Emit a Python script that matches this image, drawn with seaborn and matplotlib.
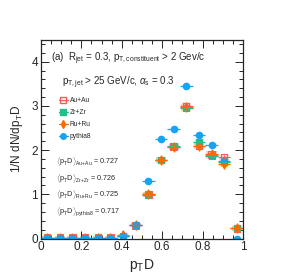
import numpy as np
import pandas as pd
import matplotlib
matplotlib.use("Agg")
import matplotlib.pyplot as plt
import seaborn as sns
from matplotlib.ticker import MultipleLocator
from matplotlib.lines import Line2D

# data
bin_centers = [0.03125, 0.09375, 0.15625, 0.21875, 0.28125, 0.34375, 0.40625, 0.46875,
               0.53125, 0.59375, 0.65625, 0.71875, 0.78125, 0.84375, 0.90625, 0.96875]
auau = [0.02, 0.02, 0.02, 0.02, 0.02, 0.02, 0.06, 0.30, 1.00, 1.78, 2.08, 3.00, 2.10, 1.90, 1.84, 0.23]
zrzr = [0.02, 0.02, 0.02, 0.02, 0.02, 0.02, 0.06, 0.30, 0.99, 1.77, 2.10, 2.95, 2.19, 1.86, 1.74, 0.23]
ruru = [0.02, 0.02, 0.02, 0.02, 0.02, 0.02, 0.07, 0.30, 1.00, 1.78, 2.08, 2.97, 2.10, 1.92, 1.69, 0.23]
pythia = [0.02, 0.02, 0.02, 0.02, 0.02, 0.02, 0.06, 0.31, 1.31, 2.26, 2.48, 3.46, 2.34, 2.12, 1.76, 0.00]
stat_err = [0.01, 0.01, 0.01, 0.01, 0.01, 0.01, 0.02, 0.03, 0.04, 0.05, 0.05, 0.06, 0.05, 0.05, 0.05, 0.03]
bin_half = 0.03125

labels = ["Au+Au", "Zr+Zr", "Ru+Ru", "pythia8"]
means = ["0.727", "0.726", "0.725", "0.717"]
sub = ["Au{+}Au", "Zr{+}Zr", "Ru{+}Ru", "pythia8"]

colors = ["#ff5a5a", "#1fbf8f", "#ff6a00", "#16a2f5"]
markers = ["s", "s", "d", "o"]

df = pd.DataFrame({"x": bin_centers * 4,
                   "y": auau + zrzr + ruru + pythia,
                   "err": stat_err * 4,
                   "sys": np.repeat(labels, len(bin_centers))})

sns.set_theme(style="ticks")
plt.rcParams["font.family"] = ["Liberation Sans", "DejaVu Sans"]
plt.rcParams["mathtext.fontset"] = "custom"
plt.rcParams["mathtext.rm"] = "Liberation Sans"
plt.rcParams["mathtext.it"] = "Liberation Sans:italic"

fig = plt.figure(figsize=(2.84, 2.79), dpi=100)
ax = fig.add_axes([0.144, 0.145, 0.712, 0.713])

for lab, c, m in zip(labels, colors, markers):
    d = df[df["sys"] == lab]
    # pale systematic boxes for the heavy-ion sets
    if lab != "pythia8":
        ax.bar(d["x"], 2 * d["err"] + 0.04, bottom=d["y"] - d["err"] - 0.02,
               width=2 * bin_half * 0.8, color=c, alpha=0.15, linewidth=0)
    ax.errorbar(d["x"], d["y"], xerr=bin_half, yerr=d["err"], fmt="none",
                ecolor=c, elinewidth=0.9, capsize=0)
    sns.scatterplot(data=d, x="x", y="y", ax=ax, color=c, marker=m, s=22,
                    edgecolor=c, linewidth=0.8, legend=False,
                    facecolor="none" if lab == "Au+Au" else c)

# legend handles (marker + horizontal bar, ROOT style)
handles = []
for lab, c, m in zip(labels, colors, markers):
    handles.append(Line2D([], [], color=c, marker=m, markersize=4, lw=0.9,
                          markerfacecolor="none" if lab == "Au+Au" else c,
                          markeredgecolor=c))
ax.legend(handles, labels, loc="upper left", bbox_to_anchor=(0.09, 0.71),
          frameon=False, fontsize=4.8, handlelength=1.3, handletextpad=0.3,
          labelspacing=0.75, borderpad=0, borderaxespad=0)

ax.set_xlim(0, 1)
ax.set_ylim(0, 4.5)
ax.xaxis.set_major_locator(MultipleLocator(0.2))
ax.xaxis.set_minor_locator(MultipleLocator(0.05))
ax.yaxis.set_major_locator(MultipleLocator(1))
ax.yaxis.set_minor_locator(MultipleLocator(0.2))
ax.set_xticks([0, 0.2, 0.4, 0.6, 0.8, 1])
ax.set_xticklabels(["0", "0.2", "0.4", "0.6", "0.8", "1"])
ax.tick_params(which="both", direction="in", top=True, right=True, labelsize=8.5,
               pad=2, width=0.7)
ax.tick_params(which="major", length=6)
ax.tick_params(which="minor", length=3)
for s in ax.spines.values():
    s.set_linewidth(0.9)

ax.set_xlabel(r"p$_{\rm T}$D", fontsize=10, labelpad=3)
ax.set_ylabel(r"1/N dN/dp$_{\rm T}$D", fontsize=8.5, labelpad=5)

ax.text(0.05, 0.905, r"(a)  R$_{\rm jet}$ = 0.3, p$_{\rm T,constituent}$ > 2 Gev/c",
        transform=ax.transAxes, fontsize=7, va="center")
ax.text(0.105, 0.785, r"p$_{\rm T,jet}$ > 25 GeV/c, $\alpha_{\rm s}$ = 0.3",
        transform=ax.transAxes, fontsize=7, va="center")

for i, (s_, mval) in enumerate(zip(sub, means)):
    ax.text(0.075, 0.385 - i * 0.083,
            r"$\langle$p$_{\rm T}$D$\rangle_{\rm " + s_ + "}$ = " + mval,
            transform=ax.transAxes, fontsize=5.2, va="center")

fig.savefig("out.png", dpi=100)
